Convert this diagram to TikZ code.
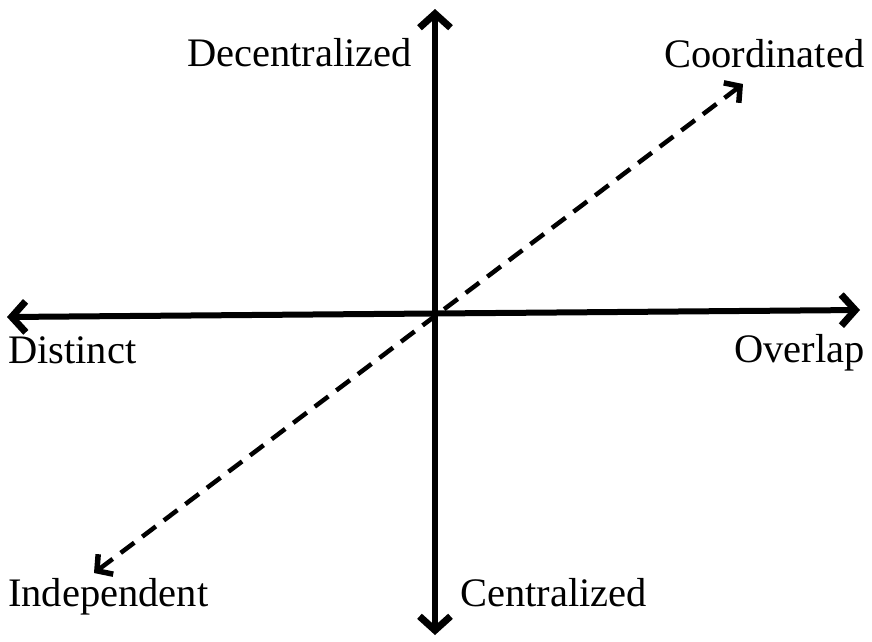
\documentclass[tikz,border=0pt]{standalone}
\usepackage{fontspec}
\setmainfont{Liberation Serif}
\usetikzlibrary{arrows.meta}
\begin{document}
\begin{tikzpicture}[x=1pt,y=-1pt,
    axis/.style={line width=6pt,{Straight Barb[length=14pt,width=31pt,line width=7pt]}-{Straight Barb[length=14pt,width=31pt,line width=7pt]}},
    diag/.style={line width=4.5pt,dash pattern=on 17pt off 10pt,{Straight Barb[length=11pt,width=25pt,line width=5.5pt]}-{Straight Barb[length=11pt,width=25pt,line width=5.5pt]}},
    lbl/.style={font=\fontsize{40.5}{48}\selectfont,inner sep=0pt}]
    \useasboundingbox (0,0) rectangle (872,641);
    % axis ends
    \coordinate (top) at (435,9);
    \coordinate (bottom) at (435,635);
    \coordinate (left) at (7,317);
    \coordinate (right) at (860,310);
    \coordinate (low) at (94,573);
    \coordinate (high) at (743,84);
    \draw [axis] (bottom) -- (top);
    \draw [axis] (left) -- (right);
    \draw [diag] (low) -- (high);
    % labels
    \node [lbl,anchor=base west] (dec) at (187,66) {Decentralized};
    \node [lbl,anchor=base west] (coo) at (664,67) {Coordinated};
    \node [lbl,anchor=base west] (dis) at (8,363) {Distinct};
    \node [lbl,anchor=base west] (ove) at (734,362) {Overlap};
    \node [lbl,anchor=base west] (ind) at (8,606) {Independent};
    \node [lbl,anchor=base west] (cen) at (460,606) {Centralized};
\end{tikzpicture}
\end{document}
